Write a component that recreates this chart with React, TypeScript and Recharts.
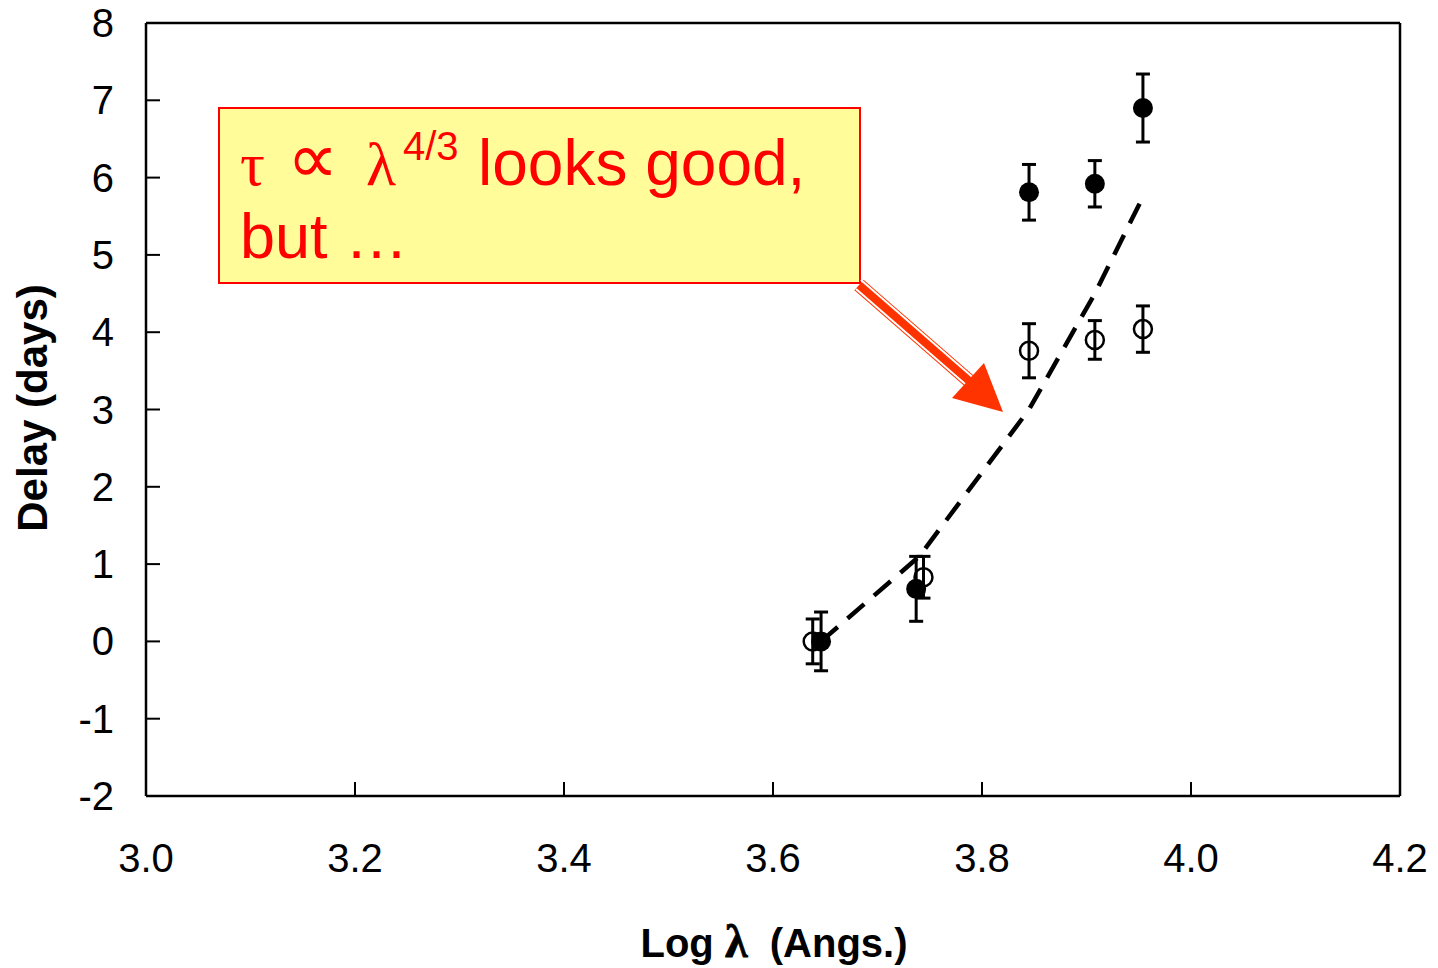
import React from 'react'
import { ScatterChart, Scatter, XAxis, YAxis, ErrorBar, ReferenceLine } from 'recharts'

// Log wavelength (Angs.) and delay (days)
const filledX = [3.646, 3.737, 3.845, 3.908, 3.954]
const filledY = [0.0, 0.68, 5.81, 5.92, 6.9]
const filledErr = [0.38, 0.42, 0.36, 0.3, 0.44]

const openX = [3.638, 3.744, 3.845, 3.908, 3.954]
const openY = [0.0, 0.83, 3.76, 3.9, 4.04]
const openErr = [0.29, 0.27, 0.35, 0.25, 0.3]

// tau ~ lambda^(4/3) curve
const fitX = [3.646, 3.74, 3.845, 3.908, 3.954]
const fitY = [0.0, 1.1, 3.0, 4.5, 5.75]

const xTicks = [3.0, 3.2, 3.4, 3.6, 3.8, 4.0, 4.2]
const yTicks = [-2, -1, 0, 1, 2, 3, 4, 5, 6, 7, 8]

const filled = filledX.map((x, i) => ({ x, y: filledY[i], err: filledErr[i] }))
const open = openX.map((x, i) => ({ x, y: openY[i], err: openErr[i] }))
const fit = fitX.map((x, i) => ({ x, y: fitY[i] }))

const SANS = '"Liberation Sans", Arial, Helvetica, sans-serif'
const SERIF = '"Liberation Serif", "Times New Roman", serif'

const XTick = ({ x, y, payload }: any) => (
  <g>
    <line x1={x} x2={x} y1={y} y2={y - 14} stroke="#000" strokeWidth={2} />
    <text x={x} y={y + 76} textAnchor="middle" fontSize={40} fontFamily={SANS} fill="#000">
      {Number(payload.value).toFixed(1)}
    </text>
  </g>
)

const YTick = ({ x, y, payload }: any) => (
  <g>
    <line x1={x} x2={x + 14} y1={y} y2={y} stroke="#000" strokeWidth={2} />
    <text x={x - 32} y={y + 14} textAnchor="end" fontSize={40} fontFamily={SANS} fill="#000">
      {payload.value}
    </text>
  </g>
)

const FilledDot = (props: any) => <circle cx={props.cx} cy={props.cy} r={10} fill="#000" />
const OpenDot = (props: any) => (
  <circle cx={props.cx} cy={props.cy} r={9} fill="none" stroke="#000" strokeWidth={2.5} />
)

export default function App() {
  return (
    <div style={{ position: 'absolute', left: 0, top: 0, width: 1438, height: 968, background: '#fff' }}>
      <ScatterChart width={1438} height={968} margin={{ top: 23, right: 38, bottom: 72, left: 86 }}>
        <XAxis
          type="number"
          dataKey="x"
          domain={[3.0, 4.2]}
          ticks={xTicks}
          interval={0}
          tickSize={0}
          tickMargin={0}
          tickLine={false}
          tick={<XTick />}
          height={100}
          axisLine={{ stroke: '#000', strokeWidth: 2.5 }}
          allowDataOverflow
        />
        <YAxis
          type="number"
          dataKey="y"
          domain={[-2, 8]}
          ticks={yTicks}
          interval={0}
          tickSize={0}
          tickMargin={0}
          tickLine={false}
          tick={<YTick />}
          width={60}
          axisLine={{ stroke: '#000', strokeWidth: 2.5 }}
          allowDataOverflow
        />
        <ReferenceLine y={8} stroke="#000" strokeWidth={2.5} />
        <ReferenceLine x={4.2} stroke="#000" strokeWidth={2.5} />
        <Scatter
          data={fit}
          line={{ stroke: '#000', strokeWidth: 4.5, strokeDasharray: '22 13' }}
          lineType="joint"
          shape={() => <g />}
          isAnimationActive={false}
        />
        <Scatter data={open} shape={<OpenDot />} isAnimationActive={false}>
          <ErrorBar dataKey="err" direction="y" width={7} stroke="#000" strokeWidth={3} isAnimationActive={false} />
        </Scatter>
        <Scatter data={filled} shape={<FilledDot />} isAnimationActive={false}>
          <ErrorBar dataKey="err" direction="y" width={7} stroke="#000" strokeWidth={3} isAnimationActive={false} />
        </Scatter>
      </ScatterChart>

      <svg
        width={1438}
        height={968}
        style={{ position: 'absolute', left: 0, top: 0, pointerEvents: 'none' }}
      >
        <text
          transform="translate(47 408) rotate(-90)"
          textAnchor="middle"
          fontSize={42}
          fontWeight="bold"
          fontFamily={SANS}
          fill="#000"
        >
          Delay (days)
        </text>
        <text
          x={774}
          y={957}
          textAnchor="middle"
          fontSize={40}
          fontWeight="bold"
          fontFamily={SANS}
          fill="#000"
          xmlSpace="preserve"
        >
          {'Log '}
          <tspan fontFamily={SERIF} fontSize={46} stroke="#000" strokeWidth={0.8}>λ</tspan>
          {'  (Angs.)'}
        </text>

        {/* annotation box */}
        <rect x={219} y={108} width={641} height={175} fill="#FFFC99" stroke="#FF0000" strokeWidth={2} />
        <text x={240} y={185} fontSize={62} fontFamily={SERIF} fill="#FF0000">τ</text>
        <text x={287} y={183} fontSize={72} fontFamily={SERIF} fill="#FF0000">∝</text>
        <text x={366} y={185} fontSize={62} fontFamily={SERIF} fill="#FF0000">λ</text>
        <text x={403} y={160} fontSize={40} fontFamily={SANS} fill="#FF0000">4/3</text>
        <text x={478} y={185} fontSize={64} fontFamily={SANS} fill="#FF0000">looks good,</text>
        <text x={240} y={258} fontSize={63} fontFamily={SANS} fill="#FF0000">but …</text>

        {/* arrow */}
        <line x1={859} y1={285} x2={975} y2={386} stroke="#FF3300" strokeWidth={14} />
        <line x1={861} y1={280} x2={977} y2={381} stroke="#fff" strokeWidth={2} />
        <line x1={856} y1={289} x2={972} y2={390} stroke="#fff" strokeWidth={2} />
        <polygon points="1003,412 952,398 984,363" fill="#FF3300" />
      </svg>
    </div>
  )
}
